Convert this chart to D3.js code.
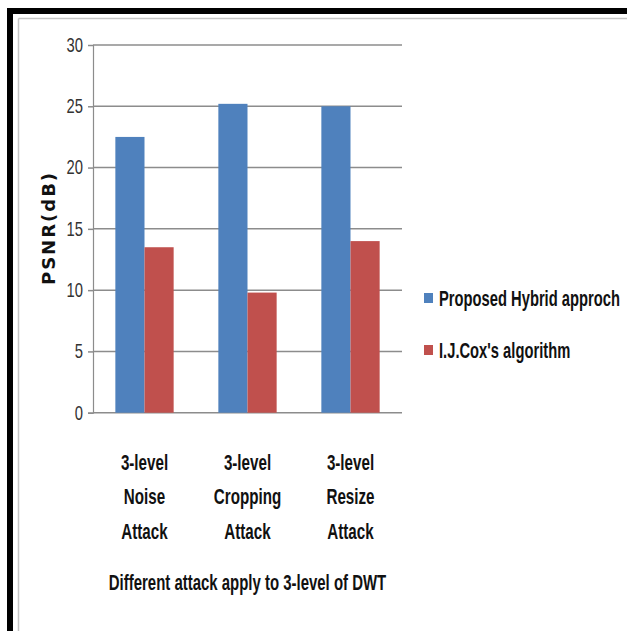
<!DOCTYPE html>
<html>
<head>
<meta charset="utf-8">
<script src="https://cdn.jsdelivr.net/npm/d3@7"></script>
<style>
  html, body { margin: 0; padding: 0; background: #fff; }
  svg { display: block; }
</style>
</head>
<body>
<svg id="chart" width="627" height="631"></svg>
<script>
// Attack categories (each drawn as three stacked lines)
const categories = [
  ["3-level", "Noise", "Attack"],
  ["3-level", "Cropping", "Attack"],
  ["3-level", "Resize", "Attack"]
];
const seriesNames = ["Proposed Hybrid approch", "I.J.Cox's algorithm"];
const hybridValues = [22.5, 25.2, 25.0];
const coxValues = [13.5, 9.8, 14.0];
const yTicks = [0, 5, 10, 15, 20, 25, 30];
const colors = ["#4F81BD", "#C0504D"];

const svg = d3.select("#chart");
const sans = "'Liberation Sans', Arial, sans-serif";

// Condensed text: a horizontally squeezed label anchored at (x, y)
function condensedText(parent, x, y, str, opts) {
  const g = parent.append("g")
    .attr("transform", `translate(${x},${y}) scale(${opts.squeeze},1)`);
  return g.append("text")
    .attr("x", 0).attr("y", 0)
    .attr("text-anchor", opts.anchor || "middle")
    .attr("dominant-baseline", "central")
    .style("font-family", sans)
    .style("font-size", opts.size + "px")
    .style("font-weight", opts.weight || "normal")
    .attr("fill", opts.fill || "#111")
    .text(str);
}

// Frame: heavy black edges on top/left with a thin grey inner rule
svg.append("rect").attr("x", 7).attr("y", 8).attr("width", 620).attr("height", 6).attr("fill", "#000");
svg.append("rect").attr("x", 7).attr("y", 8).attr("width", 6).attr("height", 623).attr("fill", "#000");
svg.append("line").attr("x1", 18.5).attr("x2", 627).attr("y1", 18.5).attr("y2", 18.5)
  .attr("stroke", "#c4c4c4").attr("stroke-width", 1.5);
svg.append("line").attr("x1", 18.5).attr("x2", 18.5).attr("y1", 18.5).attr("y2", 631)
  .attr("stroke", "#c4c4c4").attr("stroke-width", 1.5);

const plot = { left: 93, right: 402, top: 45, bottom: 412.7 };

const x0 = d3.scaleBand().domain(d3.range(categories.length))
  .range([plot.left, plot.right]).paddingInner(0).paddingOuter(0);
const bandW = x0.bandwidth();
const barW = bandW * 0.283;

const y = d3.scaleLinear().domain([0, 30]).range([plot.bottom, plot.top]);

// Axis with tick marks; labels drawn separately in a condensed face
const yAxis = d3.axisLeft(y).tickValues(yTicks).tickSize(5).tickFormat("");
const gy = svg.append("g").attr("transform", `translate(${plot.left},0)`).call(yAxis);
gy.select(".domain").attr("stroke", "#8c8c8c").attr("stroke-width", 1.2);
gy.selectAll(".tick line").attr("stroke", "#8c8c8c").attr("stroke-width", 1.5);

yTicks.forEach(t => {
  condensedText(svg, 83, y(t), String(t), { squeeze: 0.74, size: 20, anchor: "end", fill: "#333" });
});

// Horizontal gridlines
svg.append("g").selectAll("line").data(yTicks).join("line")
  .attr("x1", plot.left).attr("x2", plot.right)
  .attr("y1", d => y(d)).attr("y2", d => y(d))
  .attr("stroke", "#8c8c8c").attr("stroke-width", 1.5);

// Bars
const series = [hybridValues, coxValues];
series.forEach((vals, s) => {
  svg.append("g").selectAll("rect").data(vals).join("rect")
    .attr("x", (d, i) => x0(i) + bandW / 2 - barW + s * barW)
    .attr("y", d => y(d))
    .attr("width", barW)
    .attr("height", d => y(0) - y(d))
    .attr("fill", colors[s]);
});

// Category labels
categories.forEach((lines, i) => {
  const cx = x0(i) + bandW / 2;
  lines.forEach((t, j) => {
    condensedText(svg, cx, 462 + j * 34.5, t, { squeeze: 0.69, size: 22, weight: "bold" });
  });
});

// X-axis title
condensedText(svg, 247.5, 582, "Different attack apply to 3-level of DWT", { squeeze: 0.68, size: 22, weight: "bold" });

// Y-axis title
svg.append("text")
  .attr("transform", "translate(48,228) rotate(-90)")
  .attr("text-anchor", "middle").attr("dominant-baseline", "central")
  .style("font-family", "'DejaVu Sans', Verdana, sans-serif").style("font-size", "18px")
  .style("font-weight", "bold").style("letter-spacing", "2px")
  .attr("fill", "#111").text("PSNR(dB)");

// Legend
const legend = svg.append("g");
seriesNames.forEach((name, s) => {
  const cy = 298 + s * 52;
  legend.append("rect").attr("x", 424).attr("y", cy - 5).attr("width", 9).attr("height", 10)
    .attr("fill", colors[s]);
  condensedText(legend, 439, cy, name, { squeeze: 0.67, size: 22, weight: "bold", anchor: "start" });
});
</script>
</body>
</html>
